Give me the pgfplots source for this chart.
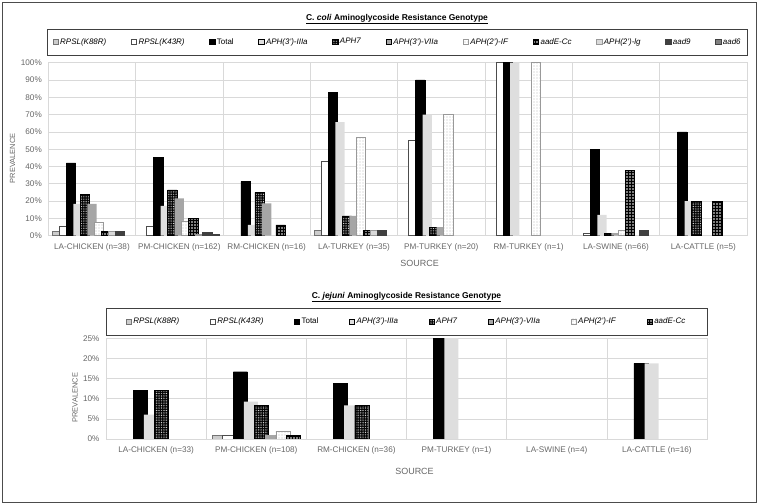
\documentclass[border=0pt]{standalone}
\usepackage{fontspec}
\setmainfont{Liberation Sans}
\usepackage{pgfplots}
\pgfplotsset{compat=1.18}
\usetikzlibrary{patterns,patterns.meta}

\pgfplotsset{
  sq/.style={legend image code/.code={\draw[##1] (0bp,-2.6bp) rectangle (5.2bp,2.6bp);}},
  s88/.style={sq, fill=black!20, draw=black!55},
  s43/.style={sq, fill=white, draw=black!70},
  stot/.style={sq, fill=black, draw=black},
  s3a/.style={sq, fill=black!13, draw=none},
  s7/.style={sq, fill=black, draw=black, postaction={pattern={Dots[distance=1.7bp, radius=0.45bp]}, pattern color=white}},
  s7a/.style={sq, fill=black!35, draw=none},
  sif/.style={sq, fill=white, draw=black!40, postaction={pattern={Dots[distance=3bp, radius=0.4bp]}, pattern color=black!75}},
  sade/.style={sq, fill=black, draw=black, postaction={pattern={Dots[distance=3bp, radius=0.9bp]}, pattern color=white}},
  slg/.style={sq, fill=black!15, draw=black!40},
  s9/.style={sq, fill=black!75, draw=black!75},
  s6/.style={sq, fill=black!50, draw=black!75},
  common/.style={
    scale only axis, anchor=south west,
    ymin=0, enlargelimits=false,
    axis line style={draw=black!15},
    major tick length=0pt, minor tick length=0pt,
    ymajorgrids, xminorgrids,
    grid style={draw=black!15, line width=0.6bp},
    minor grid style={draw=black!15, line width=0.6bp},
    tick label style={font=\fontsize{8.2}{9}\selectfont, text=black!60},
    xticklabel style={yshift=-4bp},
    yticklabel style={xshift=-3bp},
    ylabel style={font=\fontsize{7.5}{9}\selectfont, text=black!60},
    xlabel style={font=\fontsize{9}{10}\selectfont, text=black!60},
    legend style={draw=none, fill=none, anchor=center, font=\fontsize{8}{9}\selectfont},
    legend cell align=left,
  }
}

\begin{document}
\begin{tikzpicture}
\path[use as bounding box] (0bp,0bp) rectangle (758bp,504bp);
\draw[black!70, line width=0.8bp] (2bp,2bp) rectangle (756bp,502bp);

% ---------------- C. coli ----------------
\node[font=\bfseries\fontsize{8.5}{10}\selectfont] at (397bp,485bp)
  {\underline{C. \textit{coli} Aminoglycoside Resistance Genotype}};
\begin{axis}[common,
  at={(48.3bp,268.3bp)}, width=698.7bp, height=173bp,
  xmin=-0.5, xmax=7.5, ymax=100,
  ybar=-2.3bp, bar width=9.3bp,
  xtick={0,...,7},
  xticklabels={LA-CHICKEN (n=38),PM-CHICKEN (n=162),RM-CHICKEN (n=16),LA-TURKEY (n=35),PM-TURKEY (n=20),RM-TURKEY (n=1),LA-SWINE (n=66),LA-CATTLE (n=5)},
  minor xtick={-0.5,0.5,...,7.5},
  ytick={0,10,...,100},
  yticklabels={0\%,10\%,20\%,30\%,40\%,50\%,60\%,70\%,80\%,90\%,100\%},
  xlabel={SOURCE}, ylabel={PREVALENCE},
  xlabel style={at={(axis description cs:0.5,0)}, anchor=center, yshift=-27.8bp, xshift=22bp},
  ylabel style={at={(axis description cs:-0.051,0.448)}, anchor=center},
  legend columns=11,
  legend style={at={(axis description cs:0.5,1.1197)}, /tikz/every even column/.append style={column sep=22.7bp}},
]
\addplot[s88] coordinates {(0,2.6) (3,2.9)};
\addplot[s43] coordinates {(0,5.3) (1,5.6) (3,42.9) (4,55) (5,100) (6,1.5)};
\addplot[stot] coordinates {(0,42.1) (1,45.1) (2,31.25) (3,82.9) (4,90) (5,100) (6,50) (7,60)};
\addplot[s3a] coordinates {(0,18.4) (1,17.3) (2,6.25) (3,65.7) (4,70) (5,100) (6,12.1) (7,20)};
\addplot[s7] coordinates {(0,23.7) (1,26.5) (2,25) (3,11.4) (4,5) (6,1.5) (7,20)};
\addplot[s7a] coordinates {(0,18.4) (1,21.6) (2,18.75) (3,11.4) (4,5) (6,1.5)};
\addplot[sif] coordinates {(0,7.9) (1,8.6) (3,57.1) (4,70) (5,100) (6,3.0)};
\addplot[sade] coordinates {(0,2.6) (1,9.9) (2,6.25) (3,2.9) (6,37.9) (7,20)};
\addplot[slg] coordinates {(0,2.6) (1,0.6) (3,2.9)};
\addplot[s9] coordinates {(0,2.6) (1,1.9) (3,2.9) (6,3.0)};
\addplot[s6] coordinates {(1,0.6)};
\legend{\textit{RPSL(K88R)},\textit{RPSL(K43R)},Total,\textit{APH(3')-IIIa},\textit{APH7},\textit{APH(3')-VIIa},\textit{APH(2')-IF},\textit{aadE-Cc},\textit{APH(2')-lg},\textit{aad9},\textit{aad6}}
\end{axis}
\draw[black!75, line width=0.9bp] (47bp,449bp) rectangle (747bp,475bp);

% ---------------- C. jejuni ----------------
\node[font=\bfseries\fontsize{8.5}{10}\selectfont] at (406.5bp,207bp)
  {\underline{C. \textit{jejuni} Aminoglycoside Resistance Genotype}};
\begin{axis}[common,
  at={(106bp,65bp)}, width=601bp, height=100.7bp,
  xmin=-0.5, xmax=5.5, ymax=25,
  ybar=-3.35bp, bar width=14bp,
  xtick={0,...,5},
  xticklabels={LA-CHICKEN (n=33),PM-CHICKEN (n=108),RM-CHICKEN (n=36),PM-TURKEY (n=1),LA-SWINE (n=4),LA-CATTLE (n=16)},
  minor xtick={-0.5,0.5,...,5.5},
  ytick={0,5,...,25},
  yticklabels={0\%,5\%,10\%,15\%,20\%,25\%},
  xlabel={SOURCE}, ylabel={PREVALENCE},
  xlabel style={at={(axis description cs:0.5,0)}, anchor=center, yshift=-32bp, xshift=8bp},
  ylabel style={at={(axis description cs:-0.0516,0.4106)}, anchor=center},
  legend columns=8,
  legend style={at={(axis description cs:0.5,1.1668)}, /tikz/every even column/.append style={column sep=28.5bp}},
]
\addplot[s88] coordinates {(1,0.93)};
\addplot[s43] coordinates {(1,0.93)};
\addplot[stot] coordinates {(0,12.1) (1,16.7) (2,13.9) (3,100) (5,18.75)};
\addplot[s3a] coordinates {(0,6.06) (1,9.26) (2,8.33) (3,100) (5,18.75)};
\addplot[s7] coordinates {(0,12.1) (1,8.33) (2,8.33)};
\addplot[s7a] coordinates {(1,0.93)};
\addplot[sif] coordinates {(1,1.85)};
\addplot[sade] coordinates {(1,0.93)};
\legend{\textit{RPSL(K88R)},\textit{RPSL(K43R)},Total,\textit{APH(3')-IIIa},\textit{APH7},\textit{APH(3')-VIIa},\textit{APH(2')-IF},\textit{aadE-Cc}}
\end{axis}
\draw[black!75, line width=0.9bp] (106bp,169bp) rectangle (707bp,196bp);
\end{tikzpicture}
\end{document}
